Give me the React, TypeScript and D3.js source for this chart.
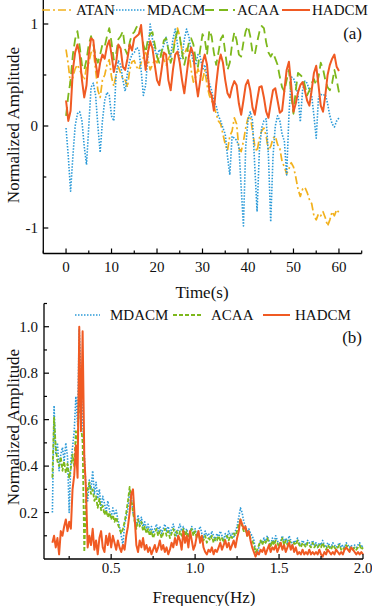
import React from 'react';
import * as d3 from 'd3';

// (a) time domain, one sample every 0.5 s
const timeSec = d3.range(0, 121).map((k) => k * 0.5);

const atanTime = [
  0.75, 0.60, 0.40, 0.48, 0.56, 0.60, 0.55, 0.50, 0.45, 0.58,
  0.62, 0.72, 0.75, 0.55, 0.35, 0.28, 0.45, 0.50, 0.60, 0.65,
  0.48, 0.39, 0.50, 0.58, 0.52, 0.46, 0.45, 0.38, 0.55, 0.63,
  0.64, 0.58, 0.55, 0.62, 0.67, 0.72, 0.66, 0.55, 0.60, 0.65,
  0.62, 0.68, 0.72, 0.65, 0.60, 0.66, 0.70, 0.75, 0.85, 0.96,
  0.88, 0.73, 0.70, 0.76, 0.73, 0.55, 0.43, 0.48, 0.56, 0.50,
  0.45, 0.55, 0.40, 0.30, 0.25, 0.20, 0.12, 0.05, 0.02, -0.08,
  -0.18, -0.24, -0.10, -0.05, 0.08, 0.02, -0.22, -0.25, -0.15, -0.02,
  0.08, 0.10, -0.05, -0.20, -0.25, -0.12, -0.05, -0.02, -0.10, -0.24,
  -0.20, -0.12, -0.10, -0.18, -0.22, -0.35, -0.40, -0.47, -0.42, -0.36,
  -0.40, -0.50, -0.62, -0.69, -0.62, -0.60, -0.65, -0.72, -0.76, -0.88,
  -0.92, -0.86, -0.88, -0.84, -0.90, -0.98, -0.92, -0.84, -0.88, -0.82,
  -0.85,
];

const mdacmTime = [
  -0.02, -0.30, -0.64, -0.30, 0.00, 0.12, 0.14, 0.05, -0.20, -0.38,
  0.00, 0.38, 0.42, 0.30, 0.00, -0.26, 0.05, 0.25, 0.33, 0.30,
  0.10, 0.05, 0.50, 0.64, 0.60, 0.45, 0.34, 0.52, 0.64, 0.70,
  0.72, 0.77, 0.75, 0.55, 0.30, 0.40, 0.70, 1.00, 0.85, 0.75,
  0.68, 0.75, 0.72, 0.80, 0.87, 0.75, 0.68, 0.85, 0.95, 0.80,
  0.65, 0.68, 0.85, 0.95, 0.88, 0.73, 0.62, 0.60, 0.70, 0.68,
  0.55, 0.60, 0.48, 0.42, 0.35, 0.24, 0.20, 0.10, 0.05, -0.02,
  -0.08, -0.30, -0.48, -0.10, -0.12, -0.14, -0.20, -0.60, -0.98, -0.20,
  0.05, 0.14, 0.05, -0.40, -0.84, -0.25, -0.02, 0.05, 0.07, -0.30,
  -0.94, -0.30, 0.00, 0.10, 0.05, -0.08, -0.15, -0.48, 0.10, 0.48,
  0.47, 0.40, 0.30, 0.04, 0.35, 0.44, 0.42, 0.35, 0.30, 0.10,
  -0.12, 0.28, 0.31, 0.30, 0.31, 0.22, 0.10, 0.02, -0.01, 0.05,
  0.08,
];

const acaaTime = [
  0.10, 0.30, 0.45, 0.70, 0.85, 0.93, 0.78, 0.60, 0.55, 0.65,
  0.80, 0.88, 0.80, 0.68, 0.62, 0.70, 0.80, 0.78, 0.88, 0.96,
  0.82, 0.65, 0.70, 0.85, 0.88, 0.93, 0.75, 0.70, 0.82, 0.90,
  0.92, 0.97, 0.99, 0.92, 0.80, 0.72, 0.85, 0.90, 0.92, 0.80,
  0.68, 0.62, 0.72, 0.84, 0.86, 0.75, 0.62, 0.70, 0.85, 0.93,
  0.88, 0.72, 0.60, 0.70, 0.82, 0.86, 0.80, 0.65, 0.58, 0.75,
  0.90, 0.85, 0.70, 0.94, 0.88, 0.72, 0.60, 0.72, 0.85, 0.89,
  0.72, 0.55, 0.62, 0.80, 0.92, 0.84, 0.70, 0.68, 0.82, 0.93,
  0.98, 0.88, 0.72, 0.70, 0.82, 0.92, 0.98, 0.96, 0.82, 0.72,
  0.68, 0.72, 0.66, 0.60, 0.48, 0.38, 0.34, 0.45, 0.55, 0.30,
  0.12, 0.35, 0.52, 0.50, 0.48, 0.40, 0.30, 0.35, 0.42, 0.46,
  0.40, 0.48, 0.62, 0.56, 0.45, 0.38, 0.35, 0.42, 0.55, 0.45,
  0.33,
];

const hadcmTime = [
  0.25, 0.05, 0.15, 0.55, 0.72, 0.80, 0.70, 0.45, 0.28, 0.40,
  0.70, 0.86, 0.84, 0.62, 0.48, 0.62, 0.70, 0.66, 0.78, 0.84,
  0.70, 0.53, 0.62, 0.80, 0.76, 0.58, 0.55, 0.66, 0.80, 0.74,
  0.86, 0.88, 0.90, 0.99, 0.75, 0.55, 0.72, 0.83, 0.76, 0.60,
  0.45, 0.40, 0.55, 0.72, 0.70, 0.45, 0.35, 0.55, 0.70, 0.73,
  0.62, 0.45, 0.32, 0.50, 0.68, 0.77, 0.70, 0.45, 0.29, 0.45,
  0.62, 0.70, 0.60, 0.35, 0.30, 0.15, 0.40, 0.60, 0.70, 0.62,
  0.45, 0.32, 0.28, 0.38, 0.44, 0.40, 0.22, 0.11, 0.25, 0.40,
  0.45, 0.35, 0.18, 0.11, 0.25, 0.38, 0.39, 0.28, 0.14, 0.08,
  0.22, 0.35, 0.37, 0.25, 0.13, 0.15, 0.35, 0.55, 0.63, 0.40,
  0.14, 0.22, 0.33, 0.40, 0.43, 0.35, 0.25, 0.20, 0.35, 0.52,
  0.59, 0.40, 0.20, 0.14, 0.30, 0.50, 0.60, 0.66, 0.70, 0.58,
  0.54,
];

// (b) spectrum, 0.15 .. 2.00 Hz every 0.01 Hz
const freqHz = d3.range(15, 201).map((k) => k / 100);

const mdacmFreq = [
  0.20, 0.66, 0.45, 0.50, 0.38, 0.45, 0.48, 0.42, 0.50, 0.44,
  0.20, 0.42, 0.48, 0.55, 0.70, 0.58, 0.99, 0.78, 0.60, 0.45,
  0.30, 0.25, 0.34, 0.30, 0.38, 0.28, 0.33, 0.26, 0.30, 0.22,
  0.27, 0.24, 0.20, 0.25, 0.21, 0.18, 0.22, 0.19, 0.21, 0.17,
  0.14, 0.10, 0.06, 0.15, 0.18, 0.22, 0.29, 0.27, 0.20, 0.17,
  0.14, 0.19, 0.15, 0.18, 0.14, 0.16, 0.13, 0.15, 0.12, 0.14,
  0.11, 0.13, 0.15, 0.12, 0.14, 0.11, 0.13, 0.15, 0.12, 0.14,
  0.11, 0.13, 0.15, 0.12, 0.10, 0.13, 0.15, 0.12, 0.14, 0.11,
  0.13, 0.10, 0.12, 0.14, 0.11, 0.13, 0.10, 0.12, 0.14, 0.11,
  0.09, 0.12, 0.10, 0.11, 0.09, 0.12, 0.10, 0.08, 0.11, 0.09,
  0.12, 0.10, 0.08, 0.11, 0.09, 0.12, 0.10, 0.11, 0.09, 0.12,
  0.14, 0.18, 0.22, 0.20, 0.16, 0.14, 0.12, 0.13, 0.11, 0.10,
  0.08, 0.04, 0.02, 0.05, 0.08, 0.07, 0.09, 0.07, 0.10, 0.08,
  0.06, 0.09, 0.07, 0.10, 0.08, 0.06, 0.08, 0.10, 0.07, 0.09,
  0.07, 0.10, 0.08, 0.06, 0.08, 0.07, 0.09, 0.07, 0.06, 0.08,
  0.07, 0.06, 0.08, 0.07, 0.06, 0.08, 0.06, 0.07, 0.05, 0.07,
  0.06, 0.08, 0.06, 0.05, 0.07, 0.06, 0.05, 0.07, 0.06, 0.05,
  0.06, 0.07, 0.05, 0.06, 0.05, 0.07, 0.06, 0.05, 0.06, 0.04,
  0.06, 0.05, 0.06, 0.07, 0.05, 0.06,
];

const acaaFreq = [
  0.35, 0.61, 0.48, 0.42, 0.40, 0.44, 0.38, 0.42, 0.37, 0.41,
  0.35, 0.39, 0.45, 0.40, 0.55, 0.50, 0.75, 0.58, 0.50, 0.03,
  0.25, 0.30, 0.33, 0.28, 0.30, 0.25, 0.27, 0.22, 0.26, 0.21,
  0.23, 0.19, 0.21, 0.18, 0.20, 0.17, 0.19, 0.16, 0.18, 0.15,
  0.13, 0.11, 0.13, 0.16, 0.20, 0.25, 0.31, 0.26, 0.20, 0.16,
  0.13, 0.17, 0.14, 0.16, 0.12, 0.14, 0.11, 0.13, 0.10, 0.12,
  0.09, 0.11, 0.13, 0.10, 0.12, 0.09, 0.11, 0.13, 0.10, 0.12,
  0.09, 0.11, 0.13, 0.10, 0.12, 0.09, 0.12, 0.10, 0.13, 0.10,
  0.12, 0.09, 0.11, 0.13, 0.10, 0.12, 0.09, 0.11, 0.08, 0.10,
  0.08, 0.10, 0.07, 0.09, 0.08, 0.10, 0.07, 0.09, 0.08, 0.10,
  0.08, 0.09, 0.07, 0.09, 0.10, 0.08, 0.10, 0.09, 0.11, 0.10,
  0.12, 0.15, 0.17, 0.14, 0.12, 0.13, 0.10, 0.11, 0.09, 0.08,
  0.06, 0.03, 0.04, 0.06, 0.08, 0.06, 0.08, 0.07, 0.09, 0.07,
  0.05, 0.08, 0.06, 0.08, 0.07, 0.05, 0.07, 0.09, 0.06, 0.08,
  0.06, 0.08, 0.07, 0.05, 0.07, 0.06, 0.08, 0.06, 0.05, 0.07,
  0.06, 0.05, 0.07, 0.06, 0.05, 0.07, 0.05, 0.06, 0.05, 0.06,
  0.05, 0.07, 0.05, 0.04, 0.06, 0.05, 0.04, 0.06, 0.05, 0.04,
  0.05, 0.06, 0.04, 0.05, 0.04, 0.06, 0.05, 0.04, 0.05, 0.04,
  0.05, 0.04, 0.05, 0.06, 0.04, 0.05,
];

const hadcmFreq = [
  0.07, 0.10, 0.05, 0.09, 0.02, 0.12, 0.10, 0.14, 0.17, 0.12,
  0.16, 0.13, 0.30, 0.36, 0.49, 0.35, 1.00, 0.55, 0.98, 0.44,
  0.30, 0.05, 0.10, 0.06, 0.13, 0.04, 0.08, 0.02, 0.09, 0.12,
  0.05, 0.03, 0.10, 0.06, 0.11, 0.05, 0.10, 0.07, 0.04, 0.08,
  0.05, 0.03, 0.06, 0.04, 0.10, 0.14, 0.20, 0.28, 0.30, 0.18,
  0.06, 0.03, 0.08, 0.05, 0.09, 0.04, 0.06, 0.03, 0.05, 0.02,
  0.04, 0.06, 0.03, 0.05, 0.08, 0.04, 0.06, 0.03, 0.05, 0.02,
  0.04, 0.07, 0.05, 0.09, 0.06, 0.10, 0.08, 0.04, 0.12, 0.07,
  0.10, 0.05, 0.12, 0.08, 0.04, 0.06, 0.10, 0.12, 0.07, 0.10,
  0.05, 0.03, 0.02, 0.04, 0.03, 0.05, 0.02, 0.04, 0.03, 0.05,
  0.07, 0.04, 0.06, 0.08, 0.05, 0.07, 0.04, 0.06, 0.08, 0.05,
  0.09, 0.12, 0.17, 0.15, 0.13, 0.14, 0.10, 0.12, 0.08, 0.05,
  0.03, 0.01, 0.03, 0.02, 0.04, 0.03, 0.05, 0.02, 0.04, 0.06,
  0.03, 0.05, 0.04, 0.06, 0.03, 0.05, 0.07, 0.04, 0.06, 0.03,
  0.05, 0.07, 0.04, 0.06, 0.03, 0.05, 0.02, 0.03, 0.02, 0.04,
  0.02, 0.03, 0.02, 0.04, 0.02, 0.03, 0.02, 0.03, 0.02, 0.04,
  0.02, 0.01, 0.03, 0.02, 0.04, 0.03, 0.02, 0.03, 0.02, 0.04,
  0.03, 0.02, 0.03, 0.02, 0.04, 0.05, 0.04, 0.03, 0.05, 0.04,
  0.03, 0.02, 0.03, 0.02, 0.03, 0.02,
];

const timeTicks = [0, 10, 20, 30, 40, 50, 60];
const timeMinor = [-5, 5, 15, 25, 35, 45, 55, 65];
const ampTicksA = [-1, 0, 1];
const ampMinorA = [-0.5, 0.5];
const freqTicks = [0.5, 1.0, 1.5, 2.0];
const freqMinor = [0.25, 0.75, 1.25, 1.75];
const ampTicksB = [0.2, 0.4, 0.6, 0.8, 1.0];
const ampMinorB = [0.1, 0.3, 0.5, 0.7, 0.9, 1.1];

const FONT = '"Liberation Serif", "Times New Roman", serif';
const C_ATAN = '#F2B11D';
const C_MDACM = '#2B9AD8';
const C_ACAA = '#7DB81C';
const C_HADCM = '#F05A23';

const seriesA = [
  { name: 'ATAN', values: atanTime, color: C_ATAN, dash: '8,3,2,3', width: 1.7 },
  { name: 'MDACM', values: mdacmTime, color: C_MDACM, dash: '1.5,1.5', width: 1.6 },
  { name: 'ACAA', values: acaaTime, color: C_ACAA, dash: '9,5', width: 1.8 },
  { name: 'HADCM', values: hadcmTime, color: C_HADCM, dash: null, width: 2 },
];

const seriesB = [
  { name: 'MDACM', values: mdacmFreq, color: C_MDACM, dash: '1.5,1.5', width: 1.6 },
  { name: 'ACAA', values: acaaFreq, color: C_ACAA, dash: '4,2', width: 1.8 },
  { name: 'HADCM', values: hadcmFreq, color: C_HADCM, dash: null, width: 2 },
];

// legend slots: line start/end and text x
const legendA = [
  [42, 72, 76],
  [113, 145, 147],
  [205, 235, 237],
  [282, 310, 312],
];
const legendB = [
  [75, 100, 110],
  [173, 203, 211],
  [263, 290, 295],
];

export default function App() {
  const xa = d3.scaleLinear().domain([-5, 65]).range([43.3, 361.7]);
  const ya = d3.scaleLinear().domain([-1, 1]).range([228, 24]);
  const xb = d3.scaleLinear().domain([0.1, 2.0]).range([44, 363]);
  const yb = d3.scaleLinear().domain([0, 1.1]).range([559, 303.5]);

  const lineA = d3.line<number>().x((_, i) => xa(timeSec[i])).y((d) => ya(d));
  const lineB = d3.line<number>().x((_, i) => xb(freqHz[i])).y((d) => yb(d));

  const axA = ya(-1.25);
  const axB = yb(0);
  const txt = '#111';

  return (
    <svg width={372} height={606} style={{ position: 'absolute', left: 0, top: 0 }} fontFamily={FONT}>
      <rect width={372} height={606} fill="#fff" />

      {/* ---------- panel (a) ---------- */}
      {seriesA.map((s) => (
        <path key={'a' + s.name} d={lineA(s.values) || ''} fill="none" stroke={s.color}
          strokeWidth={s.width} strokeDasharray={s.dash || undefined} strokeLinejoin="round" />
      ))}
      <line x1={xa(-5)} x2={xa(65)} y1={axA} y2={axA} stroke="#000" strokeWidth={1.3} />
      <line x1={xa(-5)} x2={xa(-5)} y1={axA} y2={0} stroke="#000" strokeWidth={1.3} />
      {timeTicks.map((t) => (
        <g key={'ta' + t}>
          <line x1={xa(t)} x2={xa(t)} y1={axA} y2={axA - 5} stroke="#000" strokeWidth={1.2} />
          <text x={xa(t)} y={272} fontSize={15} textAnchor="middle" fill={txt}>{t}</text>
        </g>
      ))}
      {timeMinor.map((t) => (
        <line key={'tm' + t} x1={xa(t)} x2={xa(t)} y1={axA} y2={axA - 3} stroke="#000" strokeWidth={1.2} />
      ))}
      {ampTicksA.map((v) => (
        <g key={'ya' + v}>
          <line x1={xa(-5)} x2={xa(-5) + 5} y1={ya(v)} y2={ya(v)} stroke="#000" strokeWidth={1.2} />
          <text x={38} y={ya(v) + 5} fontSize={15} textAnchor="end" fill={txt}>{v}</text>
        </g>
      ))}
      {ampMinorA.map((v) => (
        <line key={'ym' + v} x1={xa(-5)} x2={xa(-5) + 3} y1={ya(v)} y2={ya(v)} stroke="#000" strokeWidth={1.2} />
      ))}
      <text x={202} y={298} fontSize={17} textAnchor="middle" fill={txt}>Time(s)</text>
      <text transform="translate(19,125) rotate(-90)" fontSize={17} textAnchor="middle" fill={txt}>Normalized Amplitude</text>
      <text x={362} y={38.5} fontSize={17} textAnchor="end" fill={txt}>(a)</text>
      {seriesA.map((s, i) => (
        <g key={'la' + s.name}>
          <line x1={legendA[i][0]} x2={legendA[i][1]} y1={10} y2={10} stroke={s.color}
            strokeWidth={s.width} strokeDasharray={s.dash || undefined} />
          <text x={legendA[i][2]} y={15} fontSize={15} fill={txt}>{s.name}</text>
        </g>
      ))}

      {/* ---------- panel (b) ---------- */}
      {seriesB.map((s) => (
        <path key={'b' + s.name} d={lineB(s.values) || ''} fill="none" stroke={s.color}
          strokeWidth={s.width} strokeDasharray={s.dash || undefined} strokeLinejoin="round" />
      ))}
      <line x1={xb(0.1)} x2={xb(2.0)} y1={axB} y2={axB} stroke="#000" strokeWidth={1.3} />
      <line x1={xb(0.1)} x2={xb(0.1)} y1={axB} y2={yb(1.1)} stroke="#000" strokeWidth={1.3} />
      {freqTicks.map((f) => (
        <g key={'fb' + f}>
          <line x1={xb(f)} x2={xb(f)} y1={axB} y2={axB - 5} stroke="#000" strokeWidth={1.2} />
          <text x={xb(f)} y={573} fontSize={15} textAnchor="middle" fill={txt}>{f.toFixed(1)}</text>
        </g>
      ))}
      {freqMinor.map((f) => (
        <line key={'fm' + f} x1={xb(f)} x2={xb(f)} y1={axB} y2={axB - 3} stroke="#000" strokeWidth={1.2} />
      ))}
      {ampTicksB.map((v) => (
        <g key={'yb' + v}>
          <line x1={xb(0.1)} x2={xb(0.1) + 5} y1={yb(v)} y2={yb(v)} stroke="#000" strokeWidth={1.2} />
          <text x={38} y={yb(v) + 5} fontSize={15} textAnchor="end" fill={txt}>{v.toFixed(1)}</text>
        </g>
      ))}
      {ampMinorB.map((v) => (
        <line key={'ybm' + v} x1={xb(0.1)} x2={xb(0.1) + 3} y1={yb(v)} y2={yb(v)} stroke="#000" strokeWidth={1.2} />
      ))}
      <text x={204} y={603} fontSize={17} textAnchor="middle" fill={txt}>Frequency(Hz)</text>
      <text transform="translate(19,427) rotate(-90)" fontSize={17} textAnchor="middle" fill={txt}>Normalized Amplitude</text>
      <text x={362} y={342.5} fontSize={17} textAnchor="end" fill={txt}>(b)</text>
      {seriesB.map((s, i) => (
        <g key={'lb' + s.name}>
          <line x1={legendB[i][0]} x2={legendB[i][1]} y1={315} y2={315} stroke={s.color}
            strokeWidth={s.width} strokeDasharray={s.dash || undefined} />
          <text x={legendB[i][2]} y={320} fontSize={15} fill={txt}>{s.name}</text>
        </g>
      ))}
    </svg>
  );
}
